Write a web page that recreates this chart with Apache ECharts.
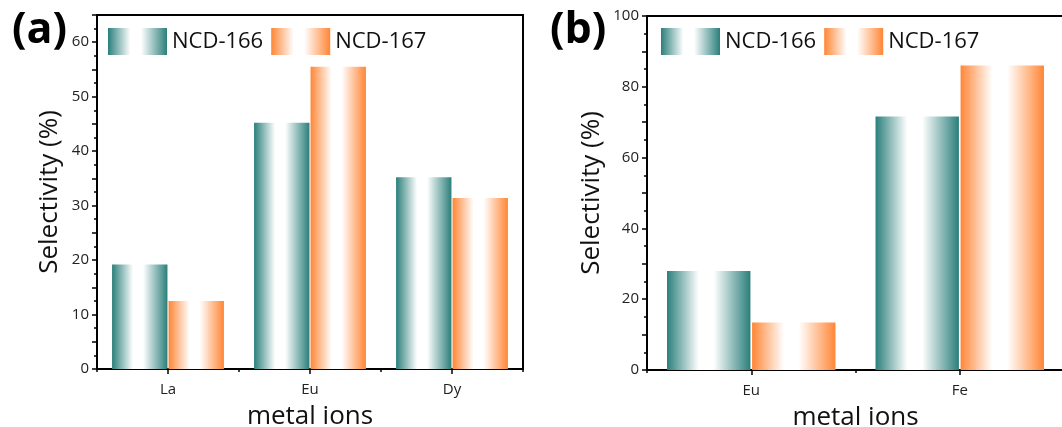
<!DOCTYPE html>
<html><head><meta charset="utf-8">
<script src="https://cdn.jsdelivr.net/npm/echarts@6/dist/echarts.min.js"></script>
<style>html,body{margin:0;padding:0;background:#fff}#c{width:1062px;height:427px}</style>
</head><body><div id="c"></div>
<script>
const seriesNames = ['NCD-166', 'NCD-167'];
const catsA = ['La', 'Eu', 'Dy'];
const a166 = [19.2, 45.2, 35.2];
const a167 = [12.5, 55.5, 31.4];
const catsB = ['Eu', 'Fe'];
const b166 = [28.0, 71.6];
const b167 = [13.4, 86.0];
const ticksA = [0, 10, 20, 30, 40, 50, 60];
const ticksB = [0, 20, 40, 60, 80, 100];

const FONT = 'Open Sans';
function grad(c) {
  return new echarts.graphic.LinearGradient(0, 0, 1, 0, [
    {offset: 0, color: c}, {offset: 0.38, color: '#ffffff'},
    {offset: 0.56, color: '#ffffff'}, {offset: 1, color: c}
  ]);
}
const TEAL = '#2b7f7b', ORANGE = '#ff8636';
const chart = echarts.init(document.getElementById('c'), null, {renderer: 'canvas'});

function yAxis(gi, max, step) {
  const ticks = gi === 0 ? ticksA : ticksB;
  return {
    type: 'value', gridIndex: gi, min: 0, max: max, interval: step,
    name: 'Selectivity (%)', nameLocation: 'middle', nameGap: gi === 0 ? 34 : 42,
    nameTextStyle: {fontFamily: FONT, fontSize: 26, color: '#111'},
    axisLine: {show: true, lineStyle: {color: '#000', width: 2}},
    axisTick: {show: true, inside: false, length: 5, lineStyle: {color: '#000', width: 1.5}},
    minorTick: {show: true, splitNumber: 2, length: 3, lineStyle: {color: '#000', width: 1.5}},
    splitLine: {show: false},
    axisLabel: {fontFamily: FONT, fontSize: 15, color: '#222', margin: 8,
      formatter: v => ticks.indexOf(v) >= 0 ? String(v) : ''}
  };
}
function xAxisMain(gi, cats) {
  return {
    type: 'category', gridIndex: gi, data: cats,
    name: 'metal ions', nameLocation: 'middle', nameGap: 35,
    nameTextStyle: {fontFamily: FONT, fontSize: 26, color: '#111'},
    axisLine: {show: true, lineStyle: {color: '#000', width: 2}},
    axisTick: {show: true, alignWithLabel: true, length: 5, lineStyle: {color: '#000', width: 1.5}},
    axisLabel: {fontFamily: FONT, fontSize: 15, color: '#222', margin: 13},
    splitLine: {show: false}
  };
}
function xAxisMinor(gi, cats) {
  return {
    type: 'category', gridIndex: gi, data: cats, position: 'bottom',
    axisLine: {show: false},
    axisTick: {show: true, alignWithLabel: false, length: 3, lineStyle: {color: '#000', width: 1.5}},
    axisLabel: {show: false}, splitLine: {show: false}
  };
}
function bar(name, data, xi, yi, color, w) {
  return {
    name: name, type: 'bar', xAxisIndex: xi, yAxisIndex: yi, data: data,
    barWidth: w, barGap: '2%', itemStyle: {color: grad(color)}
  };
}
function legend(left) {
  return {
    left: left, top: 23, itemWidth: 59, itemHeight: 27, itemGap: 8,
    data: seriesNames.map(n => ({name: n, icon: 'rect'})),
    textStyle: {fontFamily: FONT, fontSize: 22, color: '#111', padding: [0, 0, 0, 0]}
  };
}

chart.setOption({
  animation: false,
  textStyle: {fontFamily: FONT},
  title: [
    {text: '(a)', left: 7, top: 4, textStyle: {fontFamily: FONT, fontWeight: 'bold', fontSize: 43, color: '#000'}},
    {text: '(b)', left: 545, top: 4, textStyle: {fontFamily: FONT, fontWeight: 'bold', fontSize: 43, color: '#000'}}
  ],
  legend: [legend(103), legend(656)],
  grid: [
    {left: 97, top: 15, width: 426, height: 354, show: true, borderColor: '#000', borderWidth: 2, containLabel: false, outerBoundsMode: 'none'},
    {left: 647, top: 16, width: 417, height: 354, show: true, borderColor: '#000', borderWidth: 2, containLabel: false, outerBoundsMode: 'none'}
  ],
  xAxis: [xAxisMain(0, catsA), xAxisMinor(0, catsA), xAxisMain(1, catsB), xAxisMinor(1, catsB)],
  yAxis: [yAxis(0, 65, 5), yAxis(1, 100, 10)],
  series: [
    bar(seriesNames[0], a166, 0, 0, TEAL, '39%'),
    bar(seriesNames[1], a167, 0, 0, ORANGE, '39%'),
    bar(seriesNames[0], b166, 2, 1, TEAL, '40%'),
    bar(seriesNames[1], b167, 2, 1, ORANGE, '40%')
  ]
});
</script></body></html>
